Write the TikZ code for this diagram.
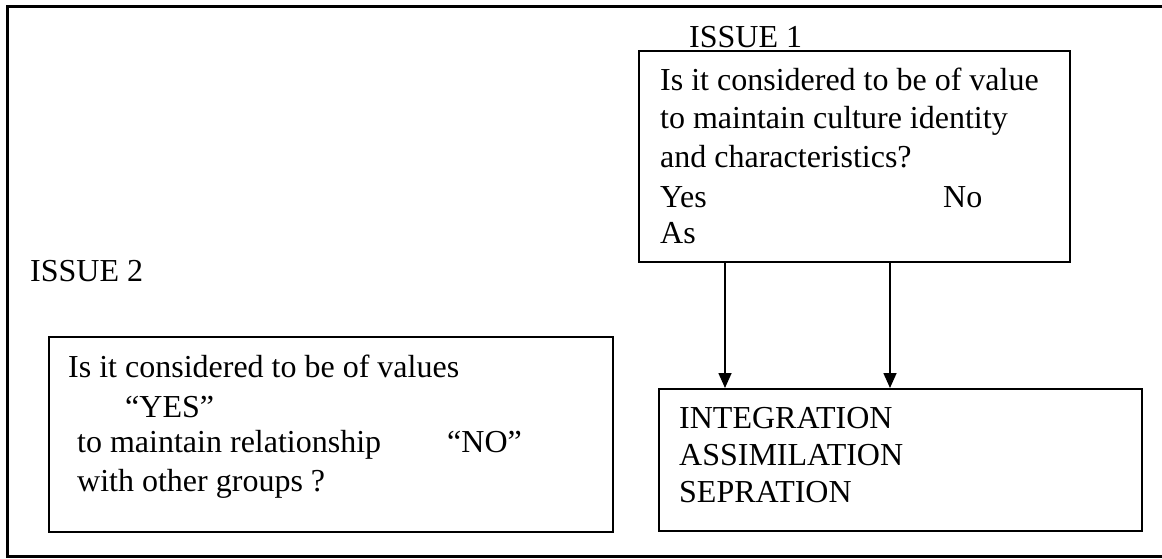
\documentclass[tikz,border=0pt]{standalone}
\usepackage{fontspec}
\setmainfont{Liberation Serif}
\usetikzlibrary{arrows.meta}

\begin{document}
\begin{tikzpicture}[x=1pt,y=-1pt,
        box/.style = {draw, line width=1.6pt, inner sep=0pt, anchor=north west},
        txt/.style = {inner sep=0pt, anchor=base west, font=\fontsize{32}{38}\selectfont},
        arrow/.style = {line width=1.6pt,-{Triangle[length=15pt,width=13pt]}}]
    \useasboundingbox (0,0) rectangle (1162,558);

    % outer frame, open on the right
    \draw[line width=3pt] (1162,6) -- (7,6) -- (7,556) -- (1162,556);

    % boxes
    \node[box, minimum width=431pt, minimum height=211pt] (q1) at (638,50) {};
    \node[box, minimum width=483pt, minimum height=142pt] (res) at (658,388) {};
    \node[box, minimum width=564pt, minimum height=195pt] (q2) at (48,336) {};

    % issue 1
    \node[txt] (iss1) at (689,47) {ISSUE 1};
    \node[txt] (q1a) at (660,90)  {Is it considered to be of value};
    \node[txt] (q1b) at (660,128) {to maintain culture identity};
    \node[txt] (q1c) at (660,167) {and characteristics?};
    \node[txt] (yes1) at (660,207) {Yes};
    \node[txt] (no1)  at (943,207) {No};
    \node[txt] (as1)  at (660,243) {As};

    % result
    \node[txt] (integ) at (679,428) {INTEGRATION};
    \node[txt] (assim) at (679,465) {ASSIMILATION};
    \node[txt] (sepr)  at (679,502) {SEPRATION};

    % issue 2
    \node[txt] (iss2) at (30,281) {ISSUE 2};
    \node[txt] (q2a) at (68,377) {Is it considered to be of values};
    \node[txt] (yes2) at (125,417) {“YES”};
    \node[txt] (q2b) at (77,452) {to maintain relationship};
    \node[txt] (no2)  at (447,452) {“NO”};
    \node[txt] (q2c) at (77,491) {with other groups ?};

    % arrows
    \coordinate (ax1) at (725,0);
    \coordinate (ax2) at (890,0);
    \draw[arrow] (q1.south -| ax1) -- (res.north -| ax1);
    \draw[arrow] (q1.south -| ax2) -- (res.north -| ax2);
\end{tikzpicture}
\end{document}
